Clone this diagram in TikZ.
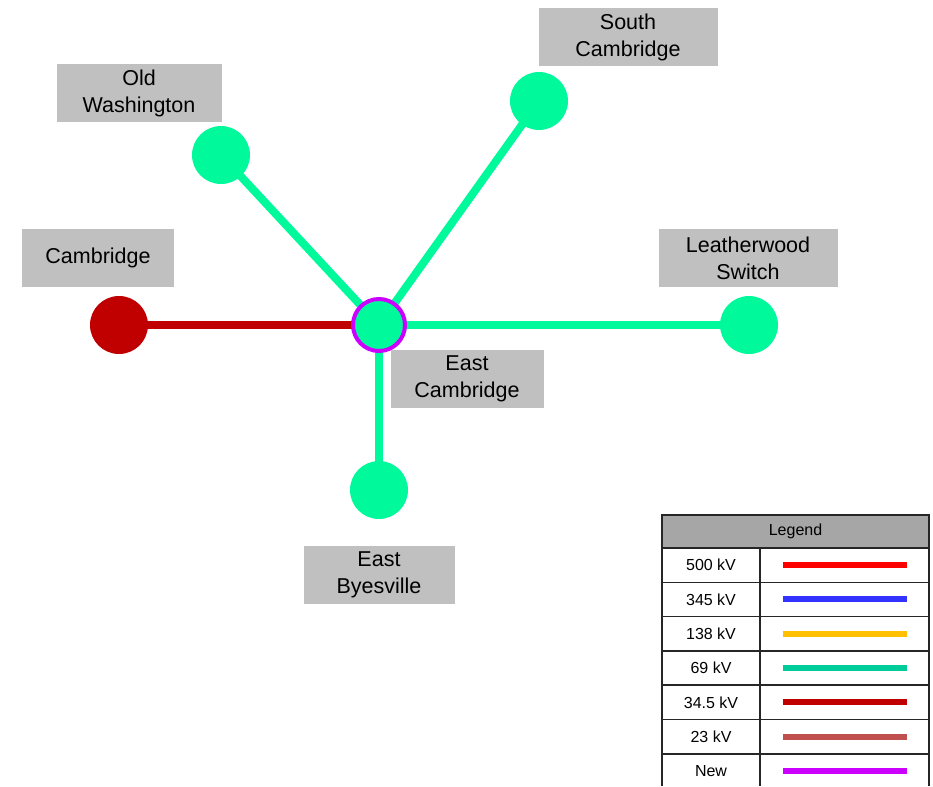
\documentclass[tikz,border=0pt]{standalone}
\usepackage{fontspec}
\setmainfont{Liberation Sans}
\usetikzlibrary{positioning, backgrounds}

\definecolor{busgreen}{RGB}{0,250,155}
\definecolor{busred}{RGB}{192,0,0}
\definecolor{newpurple}{RGB}{204,0,255}
\definecolor{taggray}{RGB}{192,192,192}
\definecolor{headgray}{RGB}{166,166,166}
\definecolor{kvfive}{RGB}{255,0,0}
\definecolor{kvthree}{RGB}{51,51,255}
\definecolor{kvone}{RGB}{255,192,0}
\definecolor{kvsixty}{RGB}{0,204,153}
\definecolor{kvthirty}{RGB}{192,0,0}
\definecolor{kvtwenty}{RGB}{192,80,77}

\begin{document}
\begin{tikzpicture}[
    x=1pt, y=-1pt,
    bus/.style={circle, minimum size=58pt, inner sep=0pt, fill=busgreen},
    newbus/.style={bus, minimum size=52pt, draw=newpurple, line width=4pt},
    tag/.style={rectangle, fill=taggray, minimum height=58pt, inner sep=0pt, align=center, font=\fontsize{21.5}{27}\selectfont},
    feeder/.style={line width=8pt, draw=busgreen},
    legcell/.style={font=\fontsize{16}{18}\selectfont},
    legline/.style={line width=6pt},
    grid/.style={draw=black!85, line width=1.6pt}
]
    \useasboundingbox (0,0) rectangle (933,786);

    % buses
    \node (eastcam) [newbus] at (379,325) {};
    \node (cam) [bus, fill=busred] at (119,325) {};
    \node (oldwash) [bus] at (221,155) {};
    \node (southcam) [bus] at (539,101) {};
    \node (leather) [bus] at (749,325) {};
    \node (eastbyes) [bus] at (379,490) {};

    % labels
    \node (tcam) [tag, minimum width=152pt] at (98,258) {Cambridge};
    \node (toldwash) [tag, minimum width=165pt] at (139,93) {Old\\Washington};
    \node (tsouthcam) [tag, minimum width=179pt] at (628,37) {South\\Cambridge};
    \node (tleather) [tag, minimum width=179pt] at (748,258) {Leatherwood\\Switch};
    \node (teastcam) [tag, minimum width=153pt] at (467,379) {East\\Cambridge};
    \node (teastbyes) [tag, minimum width=151pt] at (379,575) {East\\Byesville};

    % lines
    \begin{scope}[on background layer]
        \draw [feeder, draw=busred] (cam.center) -- (eastcam.center);
        \draw [feeder] (oldwash.center) -- (eastcam.center);
        \draw [feeder] (southcam.center) -- (eastcam.center);
        \draw [feeder] (leather.center) -- (eastcam.center);
        \draw [feeder] (eastbyes.center) -- (eastcam.center);
    \end{scope}

    % legend
    \node (leghead) [rectangle, fill=headgray, grid, minimum width=267pt, minimum height=33pt, inner sep=0pt, legcell] at (795.5,531.5) {Legend};
    \foreach \lbl/\col [count=\i] in {500 kV/kvfive, 345 kV/kvthree, 138 kV/kvone, 69 kV/kvsixty, 34.5 kV/kvthirty, 23 kV/kvtwenty, New/newpurple} {
        \node (lk\i) [legcell] at (711,{548+34.3*(\i-0.5)}) {\lbl};
        \coordinate (ls\i) at (783,{548+34.3*(\i-0.5)});
        \coordinate (le\i) at (907,{548+34.3*(\i-0.5)});
        \draw [legline, draw=\col] (ls\i) -- (le\i);
        \draw [grid] (662,{548+34.3*\i}) -- (929,{548+34.3*\i});
    }
    \draw [grid] (662,548) -- (662,786);
    \draw [grid] (760,548) -- (760,786);
    \draw [grid] (929,548) -- (929,786);
\end{tikzpicture}
\end{document}
